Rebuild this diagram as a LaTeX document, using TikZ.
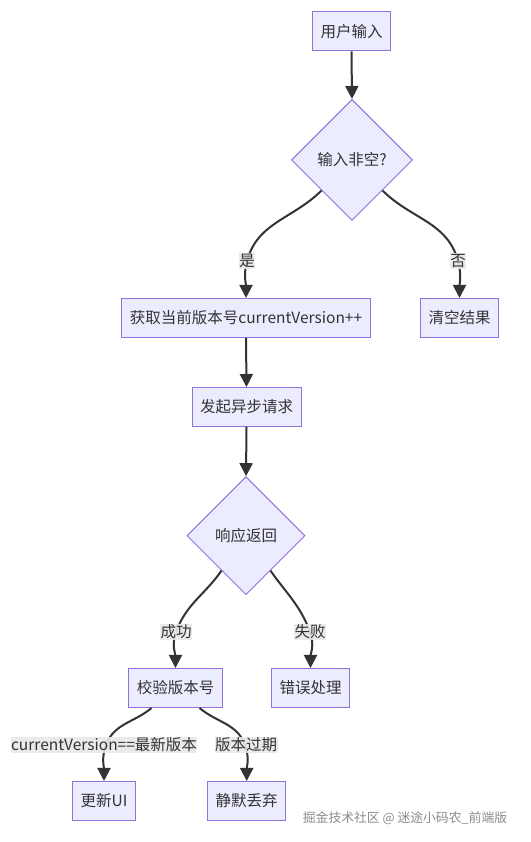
\documentclass[tikz,border=0pt]{standalone}
\usepackage{fontspec}
\setmainfont{Noto Sans CJK SC}
\usetikzlibrary{shapes.geometric,arrows.meta}
\definecolor{nodefill}{HTML}{ECECFF}
\definecolor{nodeline}{HTML}{9370DB}
\definecolor{edgecol}{HTML}{333333}
\definecolor{lblbg}{HTML}{E8E8E8}
\definecolor{txtcol}{HTML}{333333}
\definecolor{wmcol}{HTML}{8C8C8C}
\tikzset{
  box/.style={draw=nodeline, fill=nodefill, line width=1pt, minimum height=39pt,
    inner xsep=8pt, inner ysep=0pt, font=\fontsize{15.5}{18}\selectfont, text=txtcol},
  dia/.style={diamond, draw=nodeline, fill=nodefill, line width=1pt, inner sep=0pt,
    minimum width=#1, minimum height=#1, font=\fontsize{15.5}{18}\selectfont, text=txtcol},
  lbl/.style={fill=lblbg, fill opacity=0.9, text opacity=1, inner xsep=0.5pt, inner ysep=1pt,
    font=\fontsize{15.5}{18}\selectfont, text=txtcol},
  arr/.style={draw=edgecol, line width=2pt, -{Triangle[length=13pt,width=13pt]}},
  wm/.style={font=\fontsize{12.8}{15}\selectfont, text=wmcol}
}
\begin{document}
\begin{tikzpicture}[x=1pt,y=1pt]
\useasboundingbox[fill=white] (0,0) rectangle (530,842);
% nodes
\node[box] (n1) at (351.5,810.5) {用户输入};
\node[dia=121pt] (d1) at (352,682) {输入非空?};
\node[box] (n2) at (246,524) {获取当前版本号currentVersion++};
\node[box] (n3) at (459.5,524) {清空结果};
\node[box] (n4) at (246.5,435) {发起异步请求};
\node[dia=118pt] (d2) at (246,306.3) {响应返回};
\node[box] (n5) at (175.5,154) {校验版本号};
\node[box] (n6) at (310.5,154) {错误处理};
\node[box] (n7) at (104,41) {更新UI};
\node[box] (n8) at (246.7,41) {静默丢弃};
% label positions
\coordinate (lyes) at (247,581);
\coordinate (lno) at (458,581);
\coordinate (lok) at (176,210);
\coordinate (lfail) at (310,210);
\coordinate (lcv) at (106,97);
\coordinate (lold) at (245,97);
% edges
\draw[arr] (n1.south) -- (d1.north);
\draw[arr] (d1.-135) to[out=-135,in=75] (lyes) to[out=-105,in=90] (n2.north);
\draw[arr] (d1.-45) to[out=-45,in=105] (lno) to[out=-75,in=90] (n3.north);
\draw[arr] (n2.south) -- (n4.north);
\draw[arr] (n4.south) -- (d2.north);
\draw[arr] (d2.-125) to[out=-125,in=70] (lok) to[out=-110,in=90] (n5.north);
\draw[arr] (d2.-55) to[out=-55,in=110] (lfail) to[out=-70,in=90] (n6.north);
\draw[arr] ([xshift=-24pt]n5.south) to[out=-140,in=70] (lcv) to[out=-110,in=90] (n7.north);
\draw[arr] ([xshift=24pt]n5.south) to[out=-40,in=110] (lold) to[out=-70,in=90] (n8.north);
% labels
\node[lbl] (tyes) at (lyes) {是};
\node[lbl] (tno) at (lno) {否};
\node[lbl] (tok) at (lok) {成功};
\node[lbl] (tfail) at (lfail) {失败};
\node[lbl] (tcv) at (104,97) {currentVersion==最新版本};
\node[lbl] (told) at (246,97) {版本过期};
% watermark
\node[wm] (wmk) at (405,24) {掘金技术社区 @ 迷途小码农\_前端版};
\end{tikzpicture}
\end{document}
